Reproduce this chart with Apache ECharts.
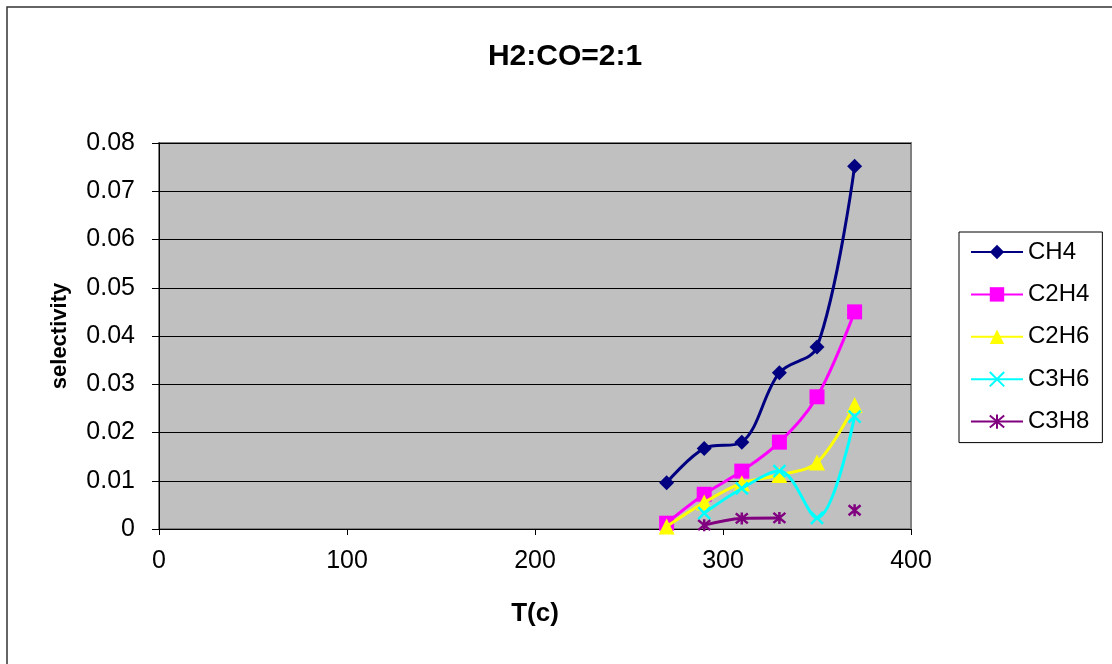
<!DOCTYPE html>
<html>
<head>
<meta charset="utf-8">
<script src="https://cdn.jsdelivr.net/npm/echarts@6/dist/echarts.min.js"></script>
<style>
  html, body { margin: 0; padding: 0; background: #fff; }
  #chart { width: 1112px; height: 664px; }
</style>
</head>
<body>
<div id="chart"></div>
<script>
// Reaction temperature (°C) and product selectivity per hydrocarbon
const temps = [270, 290, 310, 330, 350, 370];
const ch4  = [0.0096, 0.0167, 0.0180, 0.0324, 0.0377, 0.0752];
const c2h4 = [0.0012, 0.0072, 0.0120, 0.0180, 0.0274, 0.0450];
const c2h6 = [0.0005, 0.0055, 0.0095, 0.0112, 0.0138, 0.0257];
const c3h6 = [null,   0.0033, 0.0084, 0.0120, 0.0023, 0.0233];
const c3h8 = [null,   0.0008, 0.0022, 0.0023, null,   0.0039];

const seriesNames = ['CH4', 'C2H4', 'C2H6', 'C3H6', 'C3H8'];
const xTicks = [0, 100, 200, 300, 400];
const yTicks = [0, 0.01, 0.02, 0.03, 0.04, 0.05, 0.06, 0.07, 0.08];

const pairs = vals => temps.map((t, i) => [t, vals[i]]);

const crossPath = 'path://M0,0L10,10M10,0L0,10';
const starPath = 'path://M0,0L10,10M10,0L0,10M5,-1L5,11';

const styles = [
  { color: '#000080', symbol: 'diamond', size: 15 },
  { color: '#FF00FF', symbol: 'rect', size: 15 },
  { color: '#FFFF00', symbol: 'triangle', size: 16 },
  { color: '#00FFFF', symbol: crossPath, size: 12, stroke: true },
  { color: '#800080', symbol: starPath, size: 12, stroke: true }
];

const data = [ch4, c2h4, c2h6, c3h6, c3h8];
const FONT = 'Liberation Sans, Arial, sans-serif';

const chart = echarts.init(document.getElementById('chart'), null, { renderer: 'canvas' });

chart.setOption({
  animation: false,
  backgroundColor: '#fff',
  graphic: [{
    type: 'rect',
    shape: { x: 7, y: 7, width: 1130, height: 690 },
    style: { fill: 'none', stroke: '#333', lineWidth: 1.5 },
    z: -1
  }],
  title: {
    text: 'H2:CO=2:1',
    left: 560,
    top: 37,
    textAlign: 'center',
    textStyle: { fontFamily: FONT, fontWeight: 'bold', fontSize: 30, color: '#000' }
  },
  legend: {
    orient: 'vertical',
    left: 959,
    top: 232,
    padding: [8, 13, 9, 11],
    borderColor: '#000',
    borderWidth: 1,
    itemWidth: 52,
    itemHeight: 18,
    itemGap: 18.4,
    textStyle: { fontFamily: FONT, fontSize: 24, color: '#000', lineHeight: 24 },
    data: seriesNames
  },
  grid: {
    left: 159, top: 143, right: 201, bottom: 135,
    show: true,
    backgroundColor: '#C0C0C0',
    borderColor: '#808080',
    borderWidth: 2
  },
  xAxis: {
    type: 'value',
    min: xTicks[0], max: xTicks[xTicks.length - 1], interval: 100,
    name: 'T(c)',
    nameLocation: 'middle',
    nameGap: 72,
    nameTextStyle: { fontFamily: FONT, fontWeight: 'bold', fontSize: 26, color: '#000' },
    axisLine: { show: true, lineStyle: { color: '#000', width: 1 } },
    axisTick: { show: true, inside: false, length: 6, lineStyle: { color: '#000' } },
    axisLabel: { margin: 20, fontFamily: FONT, fontSize: 25, color: '#000' },
    splitLine: { show: false }
  },
  yAxis: {
    type: 'value',
    min: yTicks[0], max: yTicks[yTicks.length - 1], interval: 0.01,
    name: 'selectivity',
    nameLocation: 'middle',
    nameGap: 88,
    nameTextStyle: { fontFamily: FONT, fontWeight: 'bold', fontSize: 22, color: '#000' },
    axisLine: { show: true, lineStyle: { color: '#000', width: 1 } },
    axisTick: { show: true, inside: false, length: 7, lineStyle: { color: '#000' } },
    axisLabel: {
      margin: 24, fontFamily: FONT, fontSize: 25, color: '#000',
      formatter: v => String(Math.round(v * 100) / 100)
    },
    splitLine: { show: true, lineStyle: { color: '#000', width: 1 } }
  },
  series: seriesNames.map((name, k) => ({
    name,
    type: 'line',
    data: pairs(data[k]),
    smooth: 0.35,
    connectNulls: false,
    showSymbol: true,
    symbol: styles[k].symbol,
    symbolSize: styles[k].size,
    lineStyle: { color: styles[k].color, width: 3 },
    itemStyle: styles[k].stroke
      ? { color: styles[k].color, borderColor: styles[k].color, borderWidth: 2.5 }
      : { color: styles[k].color, borderWidth: 0 },
    emphasis: { disabled: true },
    z: 2 + k
  }))
});
</script>
</body>
</html>
